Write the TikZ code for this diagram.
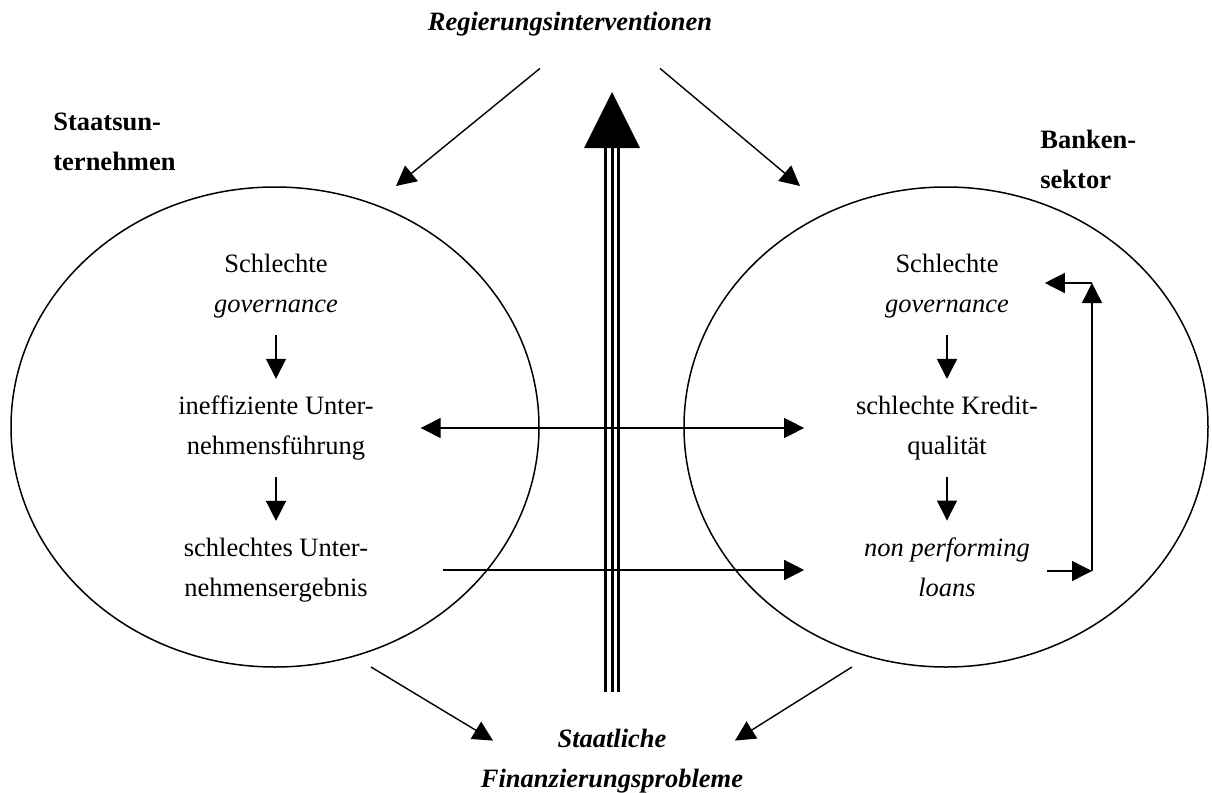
\documentclass[tikz,border=0pt]{standalone}
\usepackage{fontspec}
\setmainfont{Liberation Serif}
\usetikzlibrary{arrows.meta,calc}
\tikzset{
  txt/.style={inner sep=0pt, outer sep=8.5pt, align=center, font=\fontsize{13.25}{20}\selectfont},
  lbl/.style={inner sep=0pt, align=left, font=\fontsize{13.25}{20}\selectfont\bfseries},
  ttl/.style={inner sep=0pt, align=center, font=\fontsize{13.25}{20}\selectfont\bfseries\itshape},
  arr/.style={-{Triangle[length=10pt,width=10pt]}, line width=0.7pt},
  dblarr/.style={{Triangle[length=10pt,width=10pt]}-{Triangle[length=10pt,width=10pt]}, line width=0.7pt},
  shaft/.style={line width=1.5pt},
}
\begin{document}
\begin{tikzpicture}[x=0.5pt,y=-0.5pt]
\useasboundingbox (0,0) rectangle (1212,793);
% the two sectors
\draw[line width=0.75pt] (275,427) ellipse [x radius=264, y radius=240];
\draw[line width=0.75pt] (946,427) ellipse [x radius=262, y radius=240];
\node[lbl, anchor=west] (soelbl) at (53,142) {Staatsun-\\ternehmen};
\node[lbl, anchor=west] (banklbl) at (1040,159) {Banken-\\sektor};
% chain inside each ellipse
\node[txt] (lgov) at (276,286) {Schlechte\\\textit{governance}};
\node[txt] (lineff) at (276,428) {ineffiziente Unter-\\nehmensführung};
\node[txt] (lergeb) at (276,570) {schlechtes Unter-\\nehmensergebnis};
\node[txt] (rgov) at (947,286) {Schlechte\\\textit{governance}};
\node[txt] (rkredit) at (947,428) {schlechte Kredit-\\qualität};
\node[txt] (rnpl) at (947,567) {\textit{non performing}\\\textit{loans}};
\draw[arr] (lgov) -- (lineff);
\draw[arr] (lineff) -- (lergeb);
\draw[arr] (rgov) -- (rkredit);
\draw[arr] (rkredit) -- (rnpl);
% links between the sectors
\draw[dblarr] ($(lineff.east)+(30,0)$) -- ($(rkredit.west)+(-35,0)$);
\draw[arr] ($(lergeb.east)+(58,0)$) -- ($(lergeb.east -| rnpl.west)+(-43,0)$);
% feedback loop
\coordinate (fbbot) at (1092,571);
\coordinate (fbtop) at (1092,283);
\draw[arr] (rnpl.east |- fbbot) -- (fbbot);
\draw[arr] (fbbot) -- (fbtop);
\draw[arr] (fbtop) -- ($(rgov.east |- fbtop)+(19,0)$);
% government and state
\node[ttl] (regint) at (570,24) {Regierungsinterventionen};
\node[ttl] (finprob) at (612,761) {Staatliche\\Finanzierungsprobleme};
\coordinate (soehead) at (396,186);
\coordinate (bankhead) at (800,186);
\coordinate (soefoot) at (371,667);
\coordinate (bankfoot) at (852,667);
\draw[arr] ($(regint.south)+(-30,32)$) -- (soehead);
\draw[arr] ($(regint.south)+(90,32)$) -- (bankhead);
\draw[arr] (soefoot) -- ($(finprob.north)+(-119,12)$);
\draw[arr] (bankfoot) -- ($(finprob.north)+(123,12)$);
% big upward arrow
\coordinate (bigtip) at (612,92);
\coordinate (bigfoot) at (612,692);
\fill (bigtip) -- ++(-28,56) -- ++(56,0) -- cycle;
\foreach \dx in {-6.5,0,6.5}
  \draw[shaft] ($(bigfoot)+(\dx,0)$) -- ($(bigtip)+(\dx,56)$);
\end{tikzpicture}
\end{document}
